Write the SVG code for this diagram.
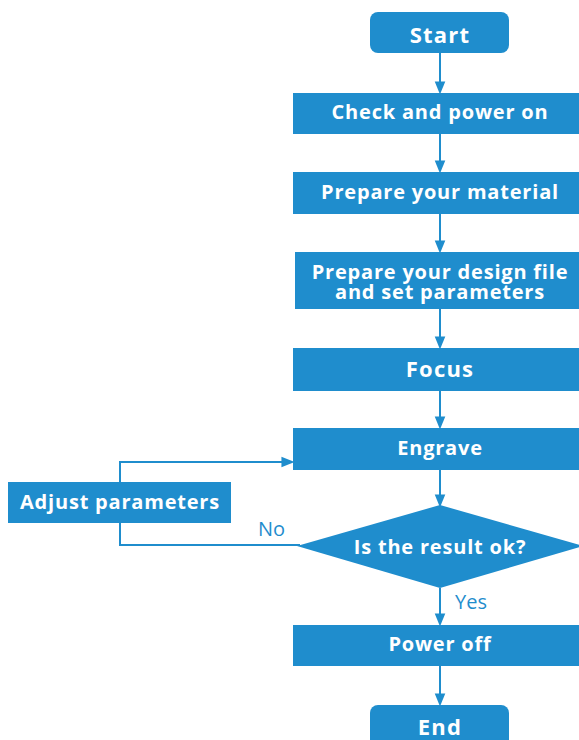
<svg xmlns="http://www.w3.org/2000/svg" width="579" height="740" viewBox="0 0 579 740">
<defs>
<marker id="ah" markerWidth="13" markerHeight="16" refX="13" refY="6.5" orient="auto" markerUnits="userSpaceOnUse" viewBox="0 0 16 13">
<path d="M0,0 L16,6.5 L0,13 Z" fill="#1f8dcd"/>
</marker>
<style>
.n{fill:#1f8dcd}
.t{fill:#ffffff;font-family:"Open Sans","DejaVu Sans",sans-serif;font-weight:bold;font-size:20px;letter-spacing:0.8px;text-anchor:middle}
.big{font-size:22px;letter-spacing:1.2px}
.c{stroke:#1f8dcd;stroke-width:2;fill:none}
.l{fill:#1f8dcd;font-family:"Open Sans","DejaVu Sans",sans-serif;font-size:20px}
</style>
</defs>
<rect width="579" height="740" fill="#ffffff"/>
<g id="connectors">
<path class="c" d="M440,53 V92" marker-end="url(#ah)"/>
<path class="c" d="M440,134 V171" marker-end="url(#ah)"/>
<path class="c" d="M440,214 V251" marker-end="url(#ah)"/>
<path class="c" d="M440,309 V347" marker-end="url(#ah)"/>
<path class="c" d="M440,391 V427" marker-end="url(#ah)"/>
<path class="c" d="M440,470 V505" marker-end="url(#ah)"/>
<path class="c" d="M440,588 V624" marker-end="url(#ah)"/>
<path class="c" d="M440,666 V704" marker-end="url(#ah)"/>
<path class="c" d="M300,545 H120 V523"/>
<path class="c" d="M120,482 V462 H292" marker-end="url(#ah)"/>
<text class="l" x="258" y="536">No</text>
<text class="l" x="455" y="609">Yes</text>
</g>
<g id="start"><rect class="n" x="370" y="12" width="139" height="41" rx="8"/><text class="t big" x="440" y="43">Start</text></g>
<g id="check"><rect class="n" x="293" y="93" width="286" height="41"/><text class="t" x="440" y="119">Check and power on</text></g>
<g id="material"><rect class="n" x="293" y="172" width="286" height="42"/><text class="t" x="440" y="199">Prepare your material</text></g>
<g id="design"><rect class="n" x="295" y="252" width="284" height="57"/><text class="t" x="440" y="279">Prepare your design file</text><text class="t" x="440" y="299">and set parameters</text></g>
<g id="focus"><rect class="n" x="293" y="348" width="286" height="43"/><text class="t big" x="440" y="377">Focus</text></g>
<g id="engrave"><rect class="n" x="293" y="428" width="286" height="42"/><text class="t" x="440" y="455">Engrave</text></g>
<g id="adjust"><rect class="n" x="8" y="482" width="223" height="41"/><text class="t" x="120" y="509">Adjust parameters</text></g>
<g id="decision"><polygon class="n" points="297,546 440,505 583,546 440,588"/><text class="t" x="440" y="554">Is the result ok?</text></g>
<g id="poweroff"><rect class="n" x="293" y="625" width="286" height="41"/><text class="t" x="440" y="651">Power off</text></g>
<g id="end"><rect class="n" x="370" y="705" width="139" height="45" rx="8"/><text class="t big" x="440" y="735">End</text></g>
</svg>
